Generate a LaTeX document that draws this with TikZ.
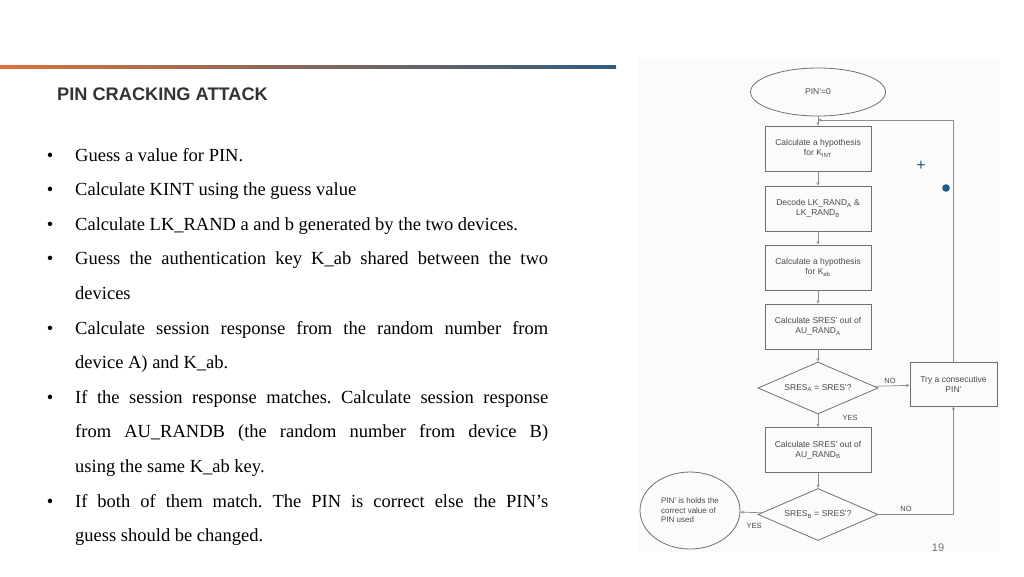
\documentclass[tikz,border=0pt]{standalone}
\usepackage{fontspec}
\setmainfont{Liberation Serif}
\setsansfont{Liberation Sans}
\usetikzlibrary{shapes.geometric, arrows.meta}
\definecolor{lineorange}{HTML}{D9733A}
\definecolor{lineblue}{HTML}{2F5D7E}
\definecolor{titlegray}{HTML}{333333}
\definecolor{flowgray}{HTML}{707070}
\definecolor{flowtext}{HTML}{4A4A4A}
\definecolor{markblue}{HTML}{1F5C8A}
\frenchspacing

\begin{document}
\begin{tikzpicture}[x=1pt, y=-1pt,
    flowbox/.style={rectangle, draw=flowgray, line width=0.8pt, minimum width=106pt, minimum height=45pt, inner sep=1pt, align=center, font=\sffamily\fontsize{8.5}{10}\selectfont, text=flowtext},
    flowdia/.style={diamond, draw=flowgray, line width=0.8pt, aspect=2.35, minimum width=120pt, minimum height=52pt, inner sep=0pt, font=\sffamily\fontsize{8.5}{10}\selectfont, text=flowtext},
    flowoval/.style={ellipse, draw=flowgray, line width=0.8pt, inner sep=0pt, font=\sffamily\fontsize{8.5}{10}\selectfont, text=flowtext},
    flowlabel/.style={font=\sffamily\fontsize{7.5}{8}\selectfont, text=flowtext, inner sep=0pt},
    flowline/.style={draw=flowgray!80, line width=0.7pt, -{Stealth[length=3.5pt, width=3pt]}},
    bulletdot/.style={anchor=base, inner sep=0pt, font=\fontsize{18.5}{34.6}\selectfont},
    bullettext/.style={anchor=base west, inner sep=0pt, text width=473pt, align=justify, font=\fontsize{18.5}{34.6}\selectfont}]
    \useasboundingbox (0,0) rectangle (1024,576);
    \fill[white] (0,0) rectangle (1024,576);

    % Header line and title
    \shade[left color=lineorange, right color=lineblue] (0,65.5) rectangle (616,68.5);
    \node[anchor=base west, inner sep=0pt, font=\sffamily\bfseries\fontsize{18.2}{20}\selectfont, text=titlegray] (title) at (57,100) {PIN CRACKING ATTACK};

    % Bullet list
    \node[bulletdot] (b1) at (50,161) {•};
    \node[bullettext] (t1) at (75,161) {Guess a value for PIN.};
    \node[bulletdot] (b2) at (50,195.6) {•};
    \node[bullettext] (t2) at (75,195.6) {Calculate KINT using the guess value};
    \node[bulletdot] (b3) at (50,230.2) {•};
    \node[bullettext] (t3) at (75,230.2) {Calculate LK\_RAND a and b generated by the two devices.};
    \node[bulletdot] (b4) at (50,264.8) {•};
    \node[bullettext] (t4) at (75,264.8) {Guess the authentication key K\_ab shared between the two\linebreak devices};
    \node[bulletdot] (b5) at (50,334) {•};
    \node[bullettext] (t5) at (75,334) {Calculate session response from the random number from\linebreak device A) and K\_ab.};
    \node[bulletdot] (b6) at (50,403.2) {•};
    \node[bullettext] (t6) at (75,403.2) {If the session response matches. Calculate session response\linebreak from AU\_RANDB (the random number from device B)\linebreak using the same K\_ab key.};
    \node[bulletdot] (b7) at (50,507) {•};
    \node[bullettext] (t7) at (75,507) {If both of them match. The PIN is correct else the PIN’s\linebreak guess should be changed.};

    % Flowchart backdrop
    \fill[black!1.5] (638,58) rectangle (1000,552);

    % Flowchart nodes
    \node[flowoval, minimum width=135pt, minimum height=48pt] (start) at (818,92) {PIN'=0};
    \node[flowbox] (kint) at (818,148.5) {Calculate a hypothesis\\for K\textsubscript{INT}};
    \node[flowbox] (decode) at (818,208.5) {Decode LK\_RAND\textsubscript{A} \&\\LK\_RAND\textsubscript{B}};
    \node[flowbox] (kab) at (818,267.5) {Calculate a hypothesis\\for K\textsubscript{ab}};
    \node[flowbox] (srsa) at (818,326.5) {Calculate SRES' out of\\AU\_RAND\textsubscript{A}};
    \node[flowdia] (checka) at (818,388) {SRES\textsubscript{A} = SRES'?};
    \node[flowbox, minimum width=87pt, minimum height=44pt] (next) at (953.5,384) {Try a consecutive\\PIN'};
    \node[flowbox] (srsb) at (818,450) {Calculate SRES' out of\\AU\_RAND\textsubscript{B}};
    \node[flowdia] (checkb) at (818,514.5) {SRES\textsubscript{B} = SRES'?};
    \node[flowoval, minimum width=100pt, minimum height=77pt, align=left, font=\sffamily\fontsize{8}{9.5}\selectfont] (done) at (690,510.5) {PIN' is holds the\\correct value of\\PIN used};
    \coordinate (join) at (818,120);

    % Flowchart connectors
    \draw[flowline] (start) -- (kint);
    \draw[flowline] (kint) -- (decode);
    \draw[flowline] (decode) -- (kab);
    \draw[flowline] (kab) -- (srsa);
    \draw[flowline] (srsa) -- (checka);
    \draw[flowline] (checka) -- (next);
    \draw[flowline] (checka) -- (srsb);
    \draw[flowline] (srsb) -- (checkb);
    \draw[flowline] (checkb) -- (done);
    \draw[flowline] (checkb.east) -| (next.south);
    \draw[flowline] (next.north) |- (join);

    % Branch labels
    \node[flowlabel] (noa) at (890,381) {NO};
    \node[flowlabel] (yesa) at (850,418) {YES};
    \node[flowlabel] (nob) at (906,509) {NO};
    \node[flowlabel] (yesb) at (754,526) {YES};

    % Marks and page number
    \node[text=markblue, inner sep=0pt, font=\sffamily\fontsize{16}{16}\selectfont] (plus) at (921,166) {+};
    \fill[markblue] (946,188) circle (3.8);
    \node[text=black!55, inner sep=0pt, font=\sffamily\fontsize{11}{12}\selectfont] (pagenum) at (938,548) {19};
\end{tikzpicture}
\end{document}
